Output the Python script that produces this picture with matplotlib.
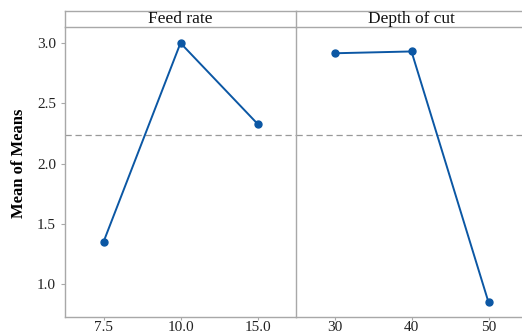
import matplotlib
matplotlib.use("Agg")
import matplotlib.pyplot as plt
import numpy as np

feed_levels = ["7.5", "10.0", "15.0"]
feed_means = [1.35, 3.00, 2.33]
depth_levels = ["30", "40", "50"]
depth_means = [2.915, 2.93, 0.85]
panel_titles = ["Feed rate", "Depth of cut"]
y_ticks = [1.0, 1.5, 2.0, 2.5, 3.0]
grand_mean = 2.235

plt.rcParams['font.family'] = ['Liberation Serif', 'DejaVu Serif']
line_color = '#0B57A4'
spine_color = '#A8A8A8'

fig = plt.figure(figsize=(5.22, 3.33), dpi=100)
W, H = 522, 333
def fx(px): return px / W
def fy(py): return 1 - py / H

left0, mid, pw = 65, 296, 231
top_plot, bottom_plot, top_strip = 26.5, 316.7, 10.5

ax1 = fig.add_axes([fx(left0), fy(bottom_plot), fx(pw), fy(top_plot) - fy(bottom_plot)])
ax2 = fig.add_axes([fx(mid), fy(bottom_plot), fx(pw), fy(top_plot) - fy(bottom_plot)], sharey=ax1)
s1 = fig.add_axes([fx(left0), fy(top_plot), fx(pw), fy(top_strip) - fy(top_plot)])
s2 = fig.add_axes([fx(mid), fy(top_plot), fx(pw), fy(top_strip) - fy(top_plot)])

for ax, labels, ys in [(ax1, feed_levels, feed_means), (ax2, depth_levels, depth_means)]:
    xs = np.arange(len(labels))
    ax.plot(xs, ys, color=line_color, lw=1.4, marker='o', ms=5, zorder=3)
    ax.axhline(grand_mean, color='#999999', lw=0.9, ls=(0, (5, 3)), zorder=1)
    ax.set_xlim(-0.5, 2.5)
    ax.set_xticks(xs)
    ax.set_xticklabels(labels)
    for sp in ax.spines.values():
        sp.set_color(spine_color)
        sp.set_linewidth(1.0)
    ax.spines['top'].set_visible(False)
    ax.spines['right'].set_visible(False)
    ax.tick_params(axis='both', colors=spine_color, labelcolor='#222222',
                   labelsize=11, length=3, width=0.8)
    ax.tick_params(axis='x', pad=0.5, length=2.5)

ax1.set_ylim(0.73, 3.137)
ax1.set_yticks(y_ticks)
ax1.set_yticklabels([f"{v:.1f}" for v in y_ticks])
ax2.tick_params(axis='y', left=False, labelleft=False)
ax1.set_ylabel("Mean of Means", fontsize=12, fontweight='bold')
ax1.yaxis.set_label_coords(-0.165, 0.53)

for s, title in zip([s1, s2], panel_titles):
    s.set_xticks([]); s.set_yticks([])
    for sp in s.spines.values():
        sp.set_color(spine_color)
        sp.set_linewidth(1.0)
    s.spines['right'].set_visible(False)
    s.text(0.5, 0.45, title, ha='center', va='center', fontsize=12.5, color='#111111',
           transform=s.transAxes)

fig.savefig("out.png", dpi=100)
